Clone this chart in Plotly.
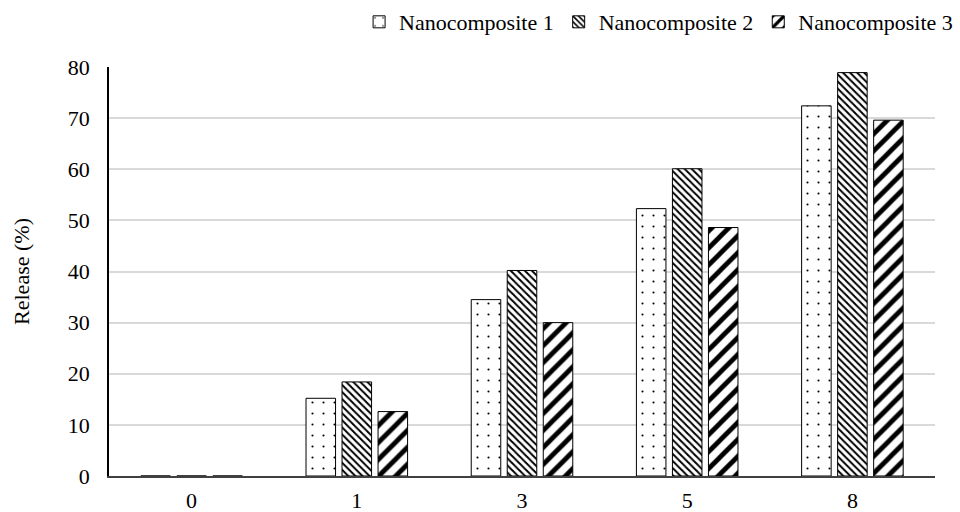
import plotly.graph_objects as go

categories = ["0", "1", "3", "5", "8"]
nc1 = [0, 15.2, 34.5, 52.3, 72.4]
nc2 = [0, 18.4, 40.2, 60.1, 78.9]
nc3 = [0, 12.6, 30.0, 48.6, 69.6]
series_names = ["Nanocomposite 1", "Nanocomposite 2", "Nanocomposite 3"]
y_ticks = [0, 10, 20, 30, 40, 50, 60, 70, 80]

FONT = "Liberation Serif"

patterns = [
    dict(shape=".", size=11, solidity=0.03),
    dict(shape="\\", size=5, solidity=0.4),
    dict(shape="/", size=12, solidity=0.4),
]

fig = go.Figure()
for name, vals, pat in zip(series_names, [nc1, nc2, nc3], patterns):
    fig.add_trace(go.Bar(
        x=categories, y=vals, name=name,
        marker=dict(
            color="white",
            line=dict(color="black", width=1),
            pattern=dict(fillmode="overlay", bgcolor="white", fgcolor="black",
                         fgopacity=1, **pat),
        ),
    ))

fig.update_layout(
    width=960, height=512,
    margin=dict(l=109, r=25, t=67, b=36, autoexpand=False),
    paper_bgcolor="white", plot_bgcolor="white",
    barmode="group", bargap=0.346, bargroupgap=0.18,
    font=dict(family=FONT, size=22, color="black"),
    showlegend=True,
    legend=dict(orientation="h", x=0.998, xanchor="right", y=0.998, yanchor="top",
                yref="container", xref="container",
                font=dict(family=FONT, size=22, color="black"),
                itemwidth=30, tracegroupgap=0, bgcolor="rgba(0,0,0,0)"),
    xaxis=dict(type="category", showline=True, linecolor="#404040", linewidth=1.5,
               ticks="", showgrid=False, tickfont=dict(size=22),
               ticklabelstandoff=4, automargin=False),
    yaxis=dict(range=[0, 80], tickvals=y_ticks, showline=True, linecolor="black",
               linewidth=1.5, ticks="", showgrid=True, gridcolor="#d9d9d9",
               gridwidth=1.5, zeroline=False, tickfont=dict(size=22),
               ticklabelstandoff=13, automargin=False,
               title=dict(text="Release (%)", font=dict(size=22), standoff=32)),
)

fig.write_html("out.html")
